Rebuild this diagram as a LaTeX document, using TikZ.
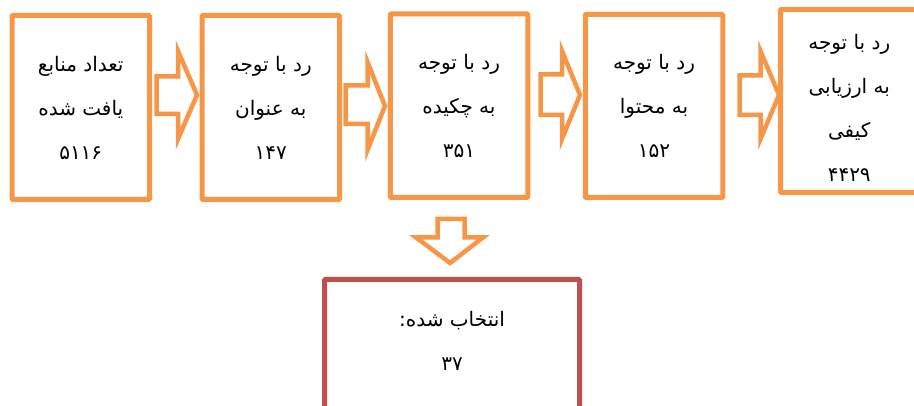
\documentclass[tikz,border=0pt]{standalone}
\usepackage{fontspec}
\newfontfamily\arabicfont[Script=Arabic]{DejaVu Sans}
\TeXXeTstate=1
\newcommand{\farsi}[1]{\beginR #1\endR}
\definecolor{stageorange}{RGB}{247,150,70}
\definecolor{stagered}{RGB}{192,80,77}
\begin{document}
\begin{tikzpicture}[x=1pt,y=-1pt,
        stage/.style={draw=stageorange,line width=5pt,fill=white,rounded corners=1pt,minimum width=137.5pt,minimum height=184pt,inner sep=0pt},
        farsitext/.style={align=center,font=\fontsize{20}{44}\selectfont\arabicfont},
        blockarrow/.style={draw=stageorange,line width=4.5pt,fill=white}]
        \path[use as bounding box,clip] (0,0) rectangle (914,406);
        \node[stage,farsitext] (found) at (80.75,107.5) {\farsi{تعداد منابع}\\\farsi{یافت شده}\\۵۱۱۶};
        \node[stage,farsitext] (title) at (270.75,107.5) {\farsi{رد با توجه}\\\farsi{به عنوان}\\۱۴۷};
        \node[stage,farsitext,minimum height=183.5pt] (abstract) at (459,105.75) {\farsi{رد با توجه}\\\farsi{به چکیده}\\۳۵۱};
        \node[stage,farsitext,minimum height=183pt] (content) at (654,106) {\farsi{رد با توجه}\\\farsi{به محتوا}\\۱۵۲};
        \node[stage,minimum height=183pt] (quality) at (849.25,101) {};
        \node[farsitext] (qualitytext) at (849.25,108) {\farsi{رد با توجه}\\\farsi{به ارزیابی}\\\farsi{کیفی}\\۴۴۲۹};
        \node[stage,draw=stagered,minimum width=255pt] (selected) at (452,371.5) {};
        \node[farsitext] (selectedtext) at (452,340.5) {\farsi{انتخاب شده:}\\۳۷};
        \draw[blockarrow] (156.5,76.5) -- (178,76.5) -- (178,51) -- (197,95) -- (178,139) -- (178,114) -- (156.5,114) -- cycle;
        \draw[blockarrow] (345.5,85.5) -- (367.5,85.5) -- (367.5,62) -- (385,106) -- (367.5,150) -- (367.5,124) -- (345.5,124) -- cycle;
        \draw[blockarrow] (540.5,74.5) -- (562,74.5) -- (562,51) -- (580,95) -- (562,139) -- (562,115) -- (540.5,115) -- cycle;
        \draw[blockarrow] (739.5,75.5) -- (760.5,75.5) -- (760.5,51) -- (779,95) -- (760.5,139) -- (760.5,115) -- (739.5,115) -- cycle;
        \draw[blockarrow] (437.5,219) -- (464.5,219) -- (464.5,237.5) -- (483,237.5) -- (450,263) -- (416,237.5) -- (437.5,237.5) -- cycle;
        \end{tikzpicture}
\end{document}
